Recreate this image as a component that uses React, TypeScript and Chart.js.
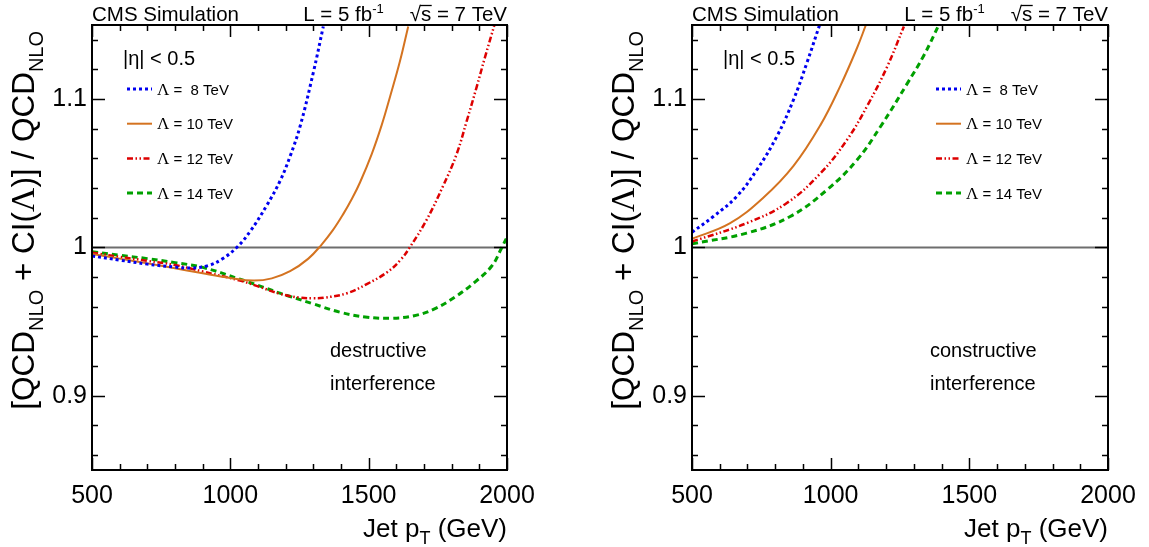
import React, { useEffect, useRef } from 'react';
import { Chart, registerables } from 'chart.js';

Chart.register(...registerables);

const SANS = "'Liberation Sans', Arial, Helvetica, sans-serif";
const SERIF = "'Liberation Serif', 'Times New Roman', serif";

// ---------------- data ----------------
const lambdaTeV = [8, 10, 12, 14];
const xMajorTicks = [500, 1000, 1500, 2000];
const yMajorTicks = [0.9, 1, 1.1];
const referenceLineX = [500, 2000];
const referenceLineY = [1, 1];

// destructive interference (left panel)
const dest8X = [500, 600, 700, 800, 860, 920, 970, 1023, 1071, 1132, 1180, 1216, 1252, 1300, 1336];
const dest8Y = [0.9943, 0.9915, 0.9888, 0.9868, 0.9862, 0.9878, 0.9922, 1.0, 1.0107, 1.0285, 1.045, 1.0615, 1.0816, 1.118, 1.149];
const dest10X = [500, 600, 700, 800, 900, 1000, 1083, 1150, 1216, 1282, 1330, 1370, 1408, 1440, 1469, 1511, 1547, 1577, 1613, 1643];
const dest10Y = [0.9956, 0.9925, 0.9893, 0.986, 0.9826, 0.9795, 0.9777, 0.9792, 0.984, 0.9925, 1.002, 1.0115, 1.0225, 1.033, 1.044, 1.063, 1.0825, 1.1015, 1.1255, 1.149];
const dest12X = [500, 600, 700, 800, 900, 1035, 1100, 1179, 1252, 1300, 1337, 1422, 1495, 1568, 1617, 1650, 1709, 1769, 1818, 1854, 1890, 1920, 1956];
const dest12Y = [0.9965, 0.9937, 0.991, 0.9882, 0.9838, 0.9777, 0.9738, 0.9688, 0.9662, 0.9658, 0.9661, 0.9692, 0.9755, 0.9835, 0.992, 1.0005, 1.0185, 1.0415, 1.063, 1.085, 1.108, 1.128, 1.151];
const dest14X = [500, 600, 700, 800, 900, 1035, 1100, 1179, 1216, 1300, 1398, 1495, 1580, 1665, 1738, 1811, 1884, 1945, 1980, 2000];
const dest14Y = [0.9972, 0.9948, 0.9925, 0.9898, 0.9866, 0.9786, 0.9745, 0.9692, 0.967, 0.962, 0.9563, 0.953, 0.9523, 0.954, 0.9586, 0.9665, 0.9767, 0.9875, 0.9995, 1.007];

// constructive interference (right panel)
const cons8X = [500, 577, 661, 734, 806, 866, 914, 960];
const cons8Y = [1.0103, 1.0209, 1.0344, 1.0524, 1.0749, 1.0996, 1.1243, 1.15];
const cons10X = [500, 636, 757, 866, 963, 1035, 1095, 1127];
const cons10Y = [1.0059, 1.0162, 1.0335, 1.055, 1.0825, 1.109, 1.1345, 1.15];
const cons12X = [500, 697, 842, 963, 1059, 1132, 1204, 1264];
const cons12Y = [1.004, 1.0164, 1.03, 1.05, 1.0726, 1.0955, 1.122, 1.149];
const cons14X = [500, 697, 854, 987, 1095, 1180, 1277, 1336, 1390];
const cons14Y = [1.0025, 1.0097, 1.0209, 1.0389, 1.059, 1.0816, 1.1108, 1.1295, 1.15];

// ---------------- styles ----------------
const seriesStyles = [
  { color: '#0000f0', width: 3, dash: [3, 3] },
  { color: '#d47320', width: 2, dash: [] as number[] },
  { color: '#dd0000', width: 2.5, dash: [6, 2.5, 1.5, 2.5, 1.5, 2.5] },
  { color: '#00a000', width: 3, dash: [6, 4] },
];

type Run = { t: string; size: number; font?: string; dy?: number };

function runsWidth(ctx: CanvasRenderingContext2D, runs: Run[]) {
  let w = 0;
  for (const r of runs) {
    ctx.font = `${r.size}px ${r.font || SANS}`;
    w += ctx.measureText(r.t).width;
  }
  return w;
}

function drawRuns(ctx: CanvasRenderingContext2D, x: number, y: number, runs: Run[], align: 'left' | 'right' = 'left') {
  let cx = align === 'right' ? x - runsWidth(ctx, runs) : x;
  ctx.textAlign = 'left';
  ctx.textBaseline = 'alphabetic';
  for (const r of runs) {
    ctx.font = `${r.size}px ${r.font || SANS}`;
    ctx.fillText(r.t, cx, y + (r.dy || 0));
    cx += ctx.measureText(r.t).width;
  }
  return cx;
}

type PanelDef = {
  xs: number[][];
  ys: number[][];
  note: string[];
  legendOffset: number; // from chart-area left
  canvasWidth: number;
  axisWidth: number;
  padRight: number;
};

const panels: PanelDef[] = [
  {
    xs: [dest8X, dest10X, dest12X, dest14X],
    ys: [dest8Y, dest10Y, dest12Y, dest14Y],
    note: ['destructive', 'interference'],
    legendOffset: 35,
    canvasWidth: 574,
    axisWidth: 92,
    padRight: 67,
  },
  {
    xs: [cons8X, cons10X, cons12X, cons14X],
    ys: [cons8Y, cons10Y, cons12Y, cons14Y],
    note: ['constructive', 'interference'],
    legendOffset: 244,
    canvasWidth: 575,
    axisWidth: 118,
    padRight: 41,
  },
];

function makeDecor(panel: PanelDef) {
  return {
    id: 'decor',
    afterDraw(chart: any) {
      const { ctx, chartArea: a, scales } = chart;
      const xs = scales.x;
      const ys = scales.y;
      ctx.save();
      ctx.fillStyle = '#000';
      ctx.strokeStyle = '#000';
      ctx.setLineDash([]);

      // inward ticks on all four sides
      ctx.lineWidth = 1.5;
      ctx.beginPath();
      for (let v = 500; v <= 2000; v += 100) {
        const px = Math.round(xs.getPixelForValue(v)) + 0.5;
        const len = xMajorTicks.includes(v) ? 12 : 6;
        ctx.moveTo(px, a.bottom);
        ctx.lineTo(px, a.bottom - len);
        ctx.moveTo(px, a.top);
        ctx.lineTo(px, a.top + len);
      }
      for (let i = 43; i <= 57; i++) {
        const v = i * 0.02;
        const py = Math.round(ys.getPixelForValue(v)) + 0.5;
        const len = i % 5 === 0 ? 13 : 6;
        ctx.moveTo(a.left, py);
        ctx.lineTo(a.left + len, py);
        ctx.moveTo(a.right, py);
        ctx.lineTo(a.right - len, py);
      }
      ctx.stroke();

      // frame
      ctx.lineWidth = 2;
      ctx.strokeRect(a.left, a.top, a.right - a.left, a.bottom - a.top);

      // header
      drawRuns(ctx, a.left, 21, [{ t: 'CMS Simulation', size: 20.5 }]);
      const sqrtRuns: Run[] = [{ t: '√s = 7 TeV', size: 20.5 }];
      const sqrtStart = a.right - runsWidth(ctx, sqrtRuns);
      drawRuns(ctx, sqrtStart, 21, sqrtRuns);
      ctx.font = `20.5px ${SANS}`;
      const wRad = ctx.measureText('√').width;
      const wS = ctx.measureText('s').width;
      ctx.lineWidth = 1.3;
      ctx.beginPath();
      ctx.moveTo(sqrtStart + wRad - 1, 5.5);
      ctx.lineTo(sqrtStart + wRad + wS + 0.5, 5.5);
      ctx.stroke();
      const lumRuns: Run[] = [
        { t: 'L = 5 fb', size: 20.5 },
        { t: '-1', size: 13, dy: -8 },
      ];
      drawRuns(ctx, sqrtStart - 26, 21, lumRuns, 'right');

      // eta range
      drawRuns(ctx, a.left + 31, 65, [{ t: '|η| < 0.5', size: 20 }]);

      // legend
      const rowY = [89, 123.7, 158.4, 193.1];
      lambdaTeV.forEach((lam, i) => {
        const st = seriesStyles[i];
        const y = rowY[i];
        ctx.strokeStyle = st.color;
        ctx.lineWidth = st.width;
        ctx.setLineDash(st.dash);
        ctx.beginPath();
        ctx.moveTo(a.left + panel.legendOffset, y);
        ctx.lineTo(a.left + panel.legendOffset + 25, y);
        ctx.stroke();
        ctx.setLineDash([]);
        ctx.fillStyle = '#000';
        const num = lam < 10 ? ' ' + lam : String(lam);
        drawRuns(ctx, a.left + panel.legendOffset + 30, y + 5.5, [
          { t: 'Λ', size: 17, font: SERIF },
          { t: ` = ${num} TeV`, size: 15 },
        ]);
      });

      // annotation
      ctx.fillStyle = '#000';
      drawRuns(ctx, a.left + 238, 357, [{ t: panel.note[0], size: 20 }]);
      drawRuns(ctx, a.left + 238, 390, [{ t: panel.note[1], size: 20 }]);

      // x title
      drawRuns(ctx, a.right, 537, [
        { t: 'Jet p', size: 26 },
        { t: 'T', size: 18, dy: 7 },
        { t: ' (GeV)', size: 26 },
      ], 'right');

      // y title (rotated)
      ctx.save();
      ctx.translate(a.left - 58, a.top + 6);
      ctx.rotate(-Math.PI / 2);
      const F = 31.5;
      const S = 20;
      drawRuns(ctx, 0, 0, [
        { t: '[QCD', size: F },
        { t: 'NLO', size: S, dy: 9 },
        { t: ' + CI(', size: F },
        { t: 'Λ', size: F + 2, font: SERIF },
        { t: ')] / QCD', size: F },
        { t: 'NLO', size: S, dy: 9 },
      ], 'right');
      ctx.restore();

      ctx.restore();
    },
  };
}

function buildConfig(panel: PanelDef): any {
  const datasets: any[] = lambdaTeV.map((lam, i) => ({
    label: `Λ = ${lam} TeV`,
    data: panel.xs[i].map((x, j) => ({ x, y: panel.ys[i][j] })),
    borderColor: seriesStyles[i].color,
    borderWidth: seriesStyles[i].width,
    borderDash: seriesStyles[i].dash,
    pointRadius: 0,
    fill: false,
    tension: 0.4,
    borderCapStyle: 'butt',
  }));
  datasets.push({
    label: 'reference',
    data: referenceLineX.map((x, j) => ({ x, y: referenceLineY[j] })),
    borderColor: '#6e6e6e',
    borderWidth: 2,
    pointRadius: 0,
    fill: false,
  });

  return {
    type: 'line',
    data: { datasets },
    options: {
      animation: false,
      responsive: false,
      devicePixelRatio: 1,
      layout: { padding: { top: 25, right: panel.padRight, left: 0, bottom: 0 } },
      plugins: {
        legend: { display: false },
        tooltip: { enabled: false },
        title: { display: false },
      },
      scales: {
        x: {
          type: 'linear',
          min: 500,
          max: 2000,
          grid: { display: false, drawTicks: false },
          border: { display: false },
          afterBuildTicks: (s: any) => {
            s.ticks = xMajorTicks.map((v) => ({ value: v }));
          },
          afterFit: (s: any) => {
            s.height = 77;
          },
          ticks: {
            autoSkip: false,
            maxRotation: 0,
            padding: 11,
            color: '#000',
            font: { family: SANS, size: 25 },
            callback: (v: any) => String(v),
          },
        },
        y: {
          type: 'linear',
          min: 0.85,
          max: 1.15,
          grid: { display: false, drawTicks: false },
          border: { display: false },
          afterBuildTicks: (s: any) => {
            s.ticks = yMajorTicks.map((v) => ({ value: v }));
          },
          afterFit: (s: any) => {
            s.width = panel.axisWidth;
          },
          ticks: {
            autoSkip: false,
            padding: 5,
            color: '#000',
            font: { family: SANS, size: 25 },
            callback: (v: any) => String(Math.round(v * 100) / 100),
          },
        },
      },
    },
    plugins: [makeDecor(panel)],
  };
}

function Panel({ panel }: { panel: PanelDef }) {
  const ref = useRef<HTMLCanvasElement>(null);
  useEffect(() => {
    const chart = new Chart(ref.current as HTMLCanvasElement, buildConfig(panel));
    return () => chart.destroy();
  }, [panel]);
  return (
    <canvas
      ref={ref}
      width={panel.canvasWidth}
      height={547}
      style={{ display: 'block', width: panel.canvasWidth, height: 547 }}
    />
  );
}

export default function App() {
  return (
    <div
      style={{
        position: 'absolute',
        left: 0,
        top: 0,
        width: 1149,
        height: 547,
        display: 'flex',
        background: '#fff',
        overflow: 'hidden',
      }}
    >
      {panels.map((p, i) => (
        <Panel key={i} panel={p} />
      ))}
    </div>
  );
}
